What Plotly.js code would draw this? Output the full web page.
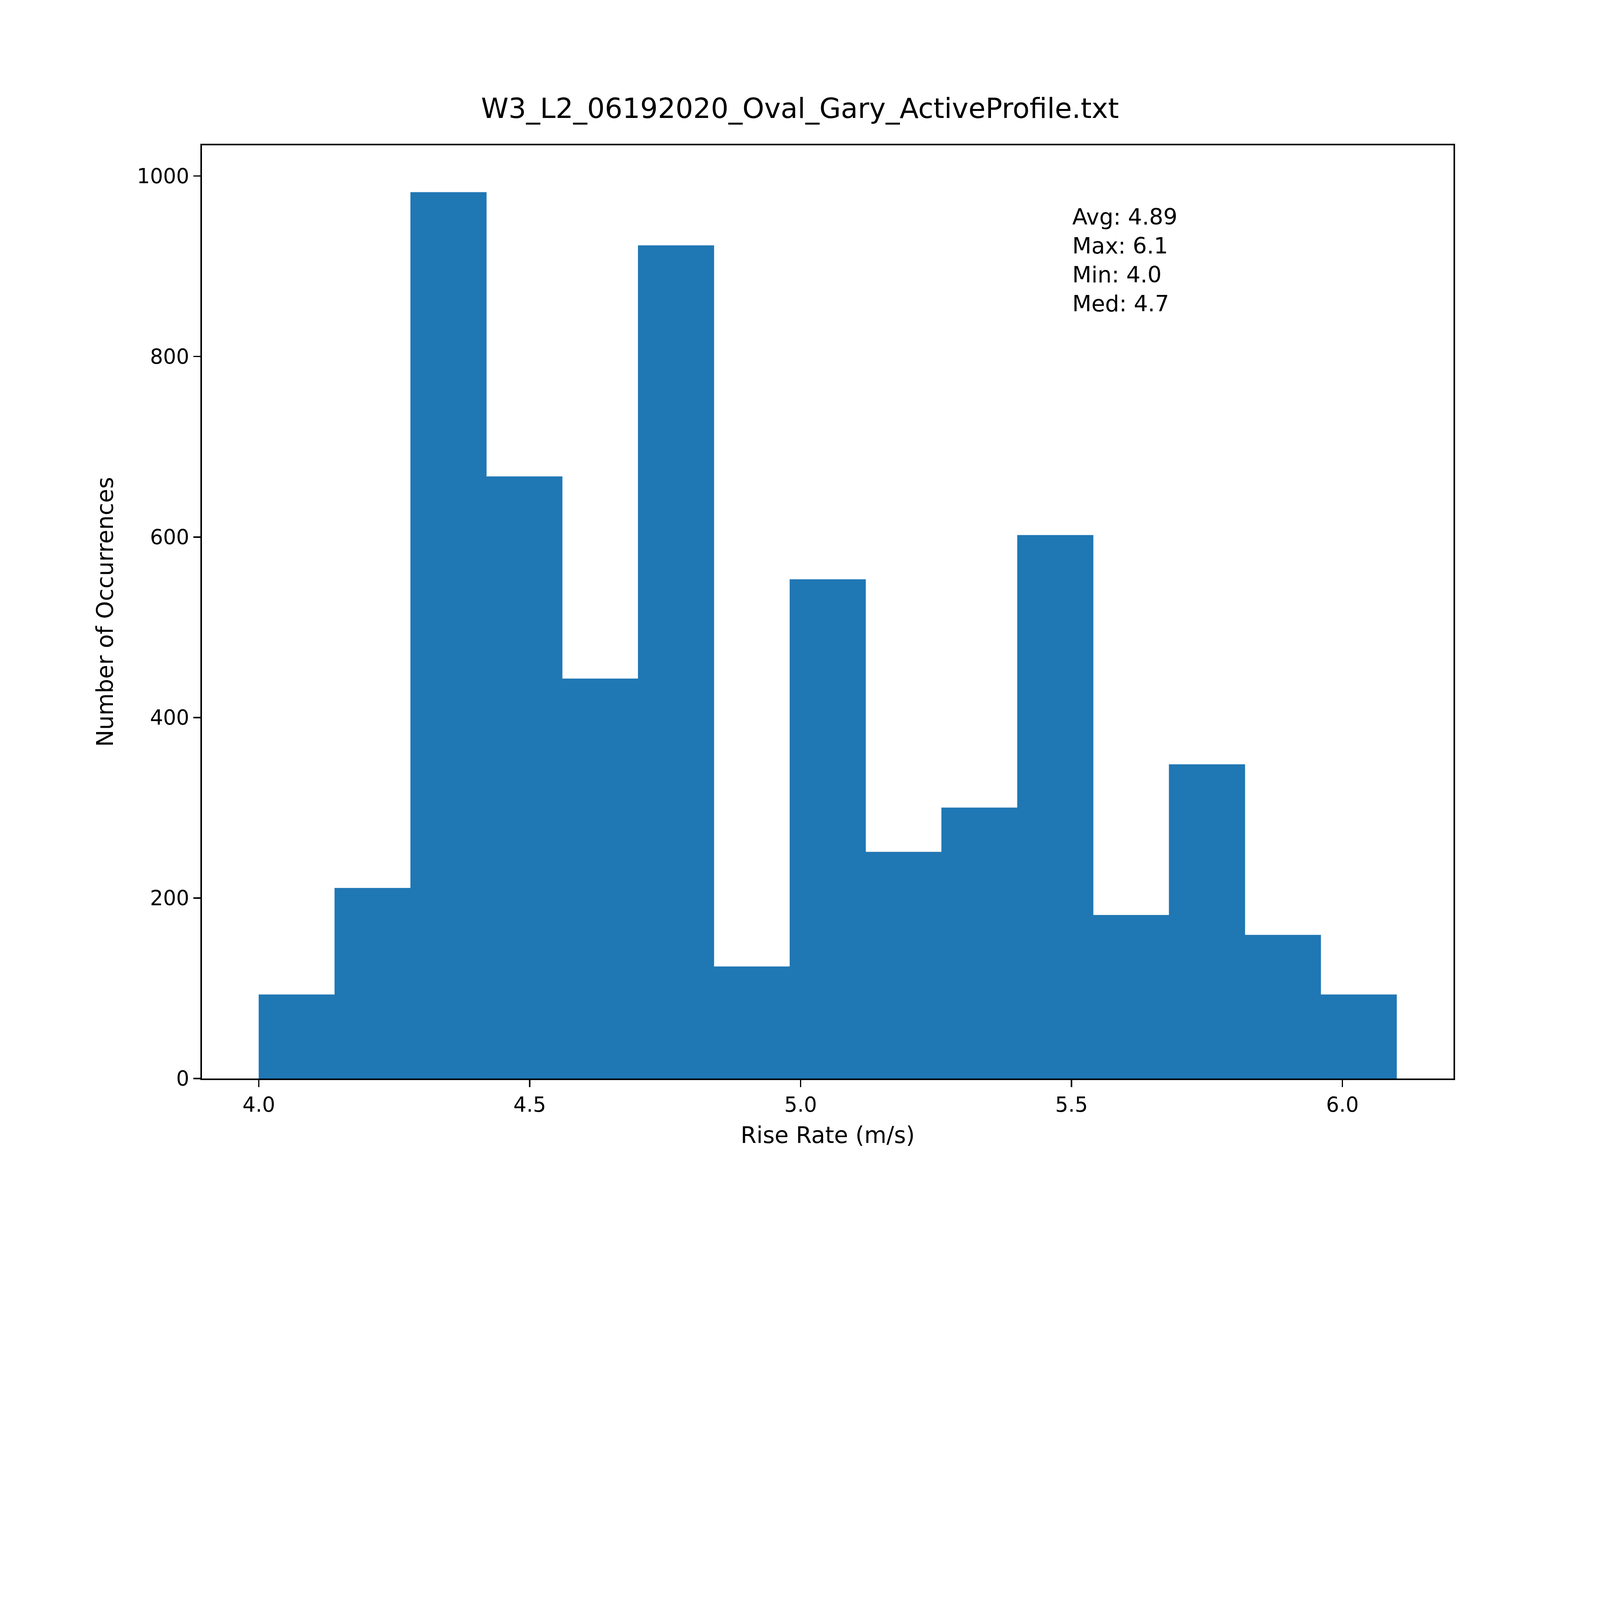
<!DOCTYPE html>
<html>
<head>
<meta charset="utf-8">
<script src="https://cdn.plot.ly/plotly-3.0.1.min.js"></script>
<style>html,body{margin:0;padding:0;background:#fff;overflow:hidden}</style>
</head>
<body>
<div id="chart"></div>
<script>
const binStart = 4.0;
const binWidth = 0.14;
const counts = [93, 211, 982, 667, 443, 923, 124, 553, 251, 300, 602, 181, 348, 159, 93];
const statsLines = ['Avg: 4.89', 'Max: 6.1', 'Min: 4.0', 'Med: 4.7'];

const centers = counts.map((_, i) => binStart + binWidth * (i + 0.5));

const FONT = 'DejaVu Sans, sans-serif';

// fit to whatever the window really is, keeping the 4:3 design
const W = window.innerWidth || 5760;
const H = window.innerHeight || 4320;
const s = Math.min(W / 5760, H / 4320);
const cw = 5760 * s, ch = 4320 * s;

const trace = [{
    type: 'bar',
    x: centers,
    y: counts,
    width: binWidth,
    marker: {color: '#1f77b4', line: {width: 1 * s, color: '#1f77b4'}},
    hoverinfo: 'skip'
}];

const axisCommon = {
    showgrid: false,
    zeroline: false,
    showline: true,
    mirror: true,
    linecolor: '#000',
    linewidth: 5 * s,
    ticks: 'outside',
    ticklen: 26 * s,
    tickwidth: 5 * s,
    tickcolor: '#000',
    tickfont: {family: FONT, size: 74 * s, color: '#000'}
};

const layout = {
    width: cw,
    height: ch,
    paper_bgcolor: '#fff',
    plot_bgcolor: '#fff',
    showlegend: false,
    margin: {l: 727 * s, r: 527 * s, t: 523 * s, b: 438 * s},
    title: {
        text: 'W3_L2_06192020_Oval_Gary_ActiveProfile.txt',
        font: {family: FONT, size: 100 * s, color: '#000'},
        x: 0.5, xanchor: 'center',
        y: 1 - 390 / 4320, yanchor: 'middle'
    },
    xaxis: Object.assign({}, axisCommon, {
        range: [3.895, 6.205],
        tickvals: [4.0, 4.5, 5.0, 5.5, 6.0],
        ticktext: ['4.0', '4.5', '5.0', '5.5', '6.0'],
        title: {text: 'Rise Rate (m/s)', font: {family: FONT, size: 82 * s, color: '#000'}, standoff: 40 * s}
    }),
    yaxis: Object.assign({}, axisCommon, {
        range: [0, 1034],
        tickvals: [0, 200, 400, 600, 800, 1000],
        title: {text: 'Number of Occurrences', font: {family: FONT, size: 82 * s, color: '#000'}, standoff: 60 * s}
    }),
    annotations: [{
        xref: 'x', yref: 'y',
        x: 5.5, y: 970,
        xanchor: 'left', yanchor: 'top',
        align: 'left',
        showarrow: false,
        text: statsLines.join('<br>'),
        font: {family: FONT, size: 80 * s, color: '#000'}
    }]
};

Plotly.newPlot(document.getElementById('chart'), trace, layout, {staticPlot: true});
</script>
</body>
</html>
